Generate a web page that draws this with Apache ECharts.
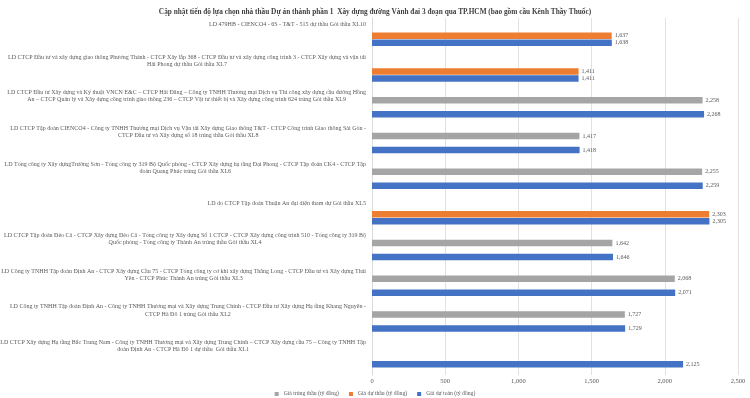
<!DOCTYPE html>
<html>
<head>
<meta charset="utf-8">
<script src="https://cdn.jsdelivr.net/npm/echarts@6/dist/echarts.min.js"></script>
<style>
  html, body { margin: 0; padding: 0; background: #fff; }
  #chart { width: 750px; height: 398px; }
</style>
</head>
<body>
<div id="chart"></div>
<script>
const title = "Cập nhật tiến độ lựa chọn nhà thầu Dự án thành phần 1  Xây dựng đường Vành đai 3 đoạn qua TP.HCM (bao gồm cầu Kênh Thầy Thuốc)";

const categories = [
  "LD 479HB - CIENCO4 - 6S - T&T - 515 dự thầu Gói thầu XL10",
  "LD CTCP Đầu tư và xây dựng giao thông Phương Thành - CTCP Xây lắp 368 - CTCP Đầu tư và xây dựng công trình 3 - CTCP Xây dựng và vận tải\nHải Phong dự thầu Gói thầu XL7",
  "LD CTCP Đầu tư Xây dựng và Kỹ thuật VNCN E&C – CTCP Hải Đăng – Công ty TNHH Thương mại Dịch vụ Thi công xây dựng cầu đường Hồng\nAn – CTCP Quản lý và Xây dựng công trình giao thông 236 – CTCP Vật tư thiết bị và Xây dựng công trình 624 trúng Gói thầu XL9",
  "LD CTCP Tập đoàn CIENCO4 - Công ty TNHH Thương mại Dịch vụ Vận tải Xây dựng Giao thông T&T - CTCP Công trình Giao thông Sài Gòn -\nCTCP Đầu tư và Xây dựng số 18 trúng thầu Gói thầu XL8",
  "LD Tổng công ty Xây dựngTrường Sơn - Tổng công ty 319 Bộ Quốc phòng - CTCP Xây dựng hạ tầng Đại Phong - CTCP Tập đoàn CK4 - CTCP Tập\nđoàn Quang Phúc trúng Gói thầu XL6",
  "LD do CTCP Tập đoàn Thuận An đại diện tham dự Gói thầu XL5",
  "LD CTCP Tập đoàn Đèo Cả - CTCP Xây dựng Đèo Cả - Tổng công ty Xây dựng Số 1 CTCP - CTCP Xây dựng công trình 510 - Tổng công ty 319 Bộ\nQuốc phòng - Tổng công ty Thành An trúng thầu Gói thầu XL4",
  "LD Công ty TNHH Tập đoàn Định An - CTCP Xây dựng Cầu 75 - CTCP Tổng công ty cơ khí xây dựng Thăng Long - CTCP Đầu tư và Xây dựng Thái\nYên - CTCP Phúc Thành An trúng Gói thầu XL3",
  "LD Công ty TNHH Tập đoàn Định An - Công ty TNHH Thương mại và Xây dựng Trung Chính - CTCP Đầu tư Xây dựng Hạ tầng Khang Nguyên -\nCTCP Hà Đô 1 trúng Gói thầu XL2",
  "LD CTCP Xây dựng Hạ tầng Bắc Trung Nam - Công ty TNHH Thương mại và Xây dựng Trung Chính – CTCP Xây dựng cầu 75 – Công ty TNHH Tập\nđoàn Định An - CTCP Hà Đô 1 dự thầu  Gói thầu XL1"
];

const seriesNames = ["Giá trúng thầu (tỷ đồng)", "Giá dự thầu (tỷ đồng)", "Giá dự toán (tỷ đồng)"];
const giaTrungThau = [null, null, 2258, 1417, 2255, null, 1642, 2068, 1727, null];
const giaDuThau = [1637, 1411, null, null, null, 2303, null, null, null, null];
const giaDuToan = [1638, 1411, 2268, 1418, 2259, 2305, 1646, 2071, 1729, 2125];
const colors = ["#a5a5a5", "#ed7d31", "#4472c4"];

const font = "Liberation Serif";
const fmt = (v) => Number(v).toLocaleString("en-US");

const chart = echarts.init(document.getElementById("chart"));

const makeSeries = (name, data, color) => ({
  name: name,
  type: "bar",
  data: data,
  barWidth: 6.5,
  barGap: "8%",
  itemStyle: { color: color },
  label: {
    show: true,
    position: "right",
    distance: 3,
    fontFamily: font,
    fontSize: 6,
    color: "#595959",
    formatter: (p) => (p.value == null ? "" : fmt(p.value))
  }
});

chart.setOption({
  animation: false,
  color: colors,
  title: {
    text: title,
    left: "center",
    top: 4,
    textStyle: { fontFamily: font, fontSize: 7.3, fontWeight: "bold", color: "#404040" }
  },
  legend: {
    top: 386,
    left: "center",
    icon: "rect",
    itemWidth: 4,
    itemHeight: 4,
    itemGap: 10,
    textStyle: { fontFamily: font, fontSize: 5.7, color: "#595959" }
  },
  grid: { left: 372, right: 12, top: 18, bottom: 23, containLabel: false, outerBoundsMode: "none" },
  xAxis: {
    type: "value",
    min: 0,
    max: 2500,
    interval: 500,
    axisLine: { show: false },
    axisTick: { show: false },
    splitLine: { lineStyle: { color: "#d9d9d9", width: 0.8 } },
    axisLabel: {
      fontFamily: font,
      fontSize: 6.5,
      color: "#595959",
      margin: 3,
      formatter: fmt
    }
  },
  yAxis: {
    type: "category",
    inverse: true,
    data: categories,
    axisTick: { show: false },
    axisLine: { lineStyle: { color: "#d9d9d9", width: 0.8 } },
    axisLabel: {
      align: "right",
      margin: 6,
      padding: [0, 0, 22, 0],
      formatter: (v) => v.split("\n").map((l) => "{c|" + l + "}").join("\n"),
      rich: {
        c: { align: "center", fontFamily: font, fontSize: 6, lineHeight: 7.2, color: "#595959" }
      }
    }
  },
  series: [
    makeSeries(seriesNames[0], giaTrungThau, colors[0]),
    makeSeries(seriesNames[1], giaDuThau, colors[1]),
    makeSeries(seriesNames[2], giaDuToan, colors[2])
  ]
});

window.addEventListener("resize", () => chart.resize());
</script>
</body>
</html>
